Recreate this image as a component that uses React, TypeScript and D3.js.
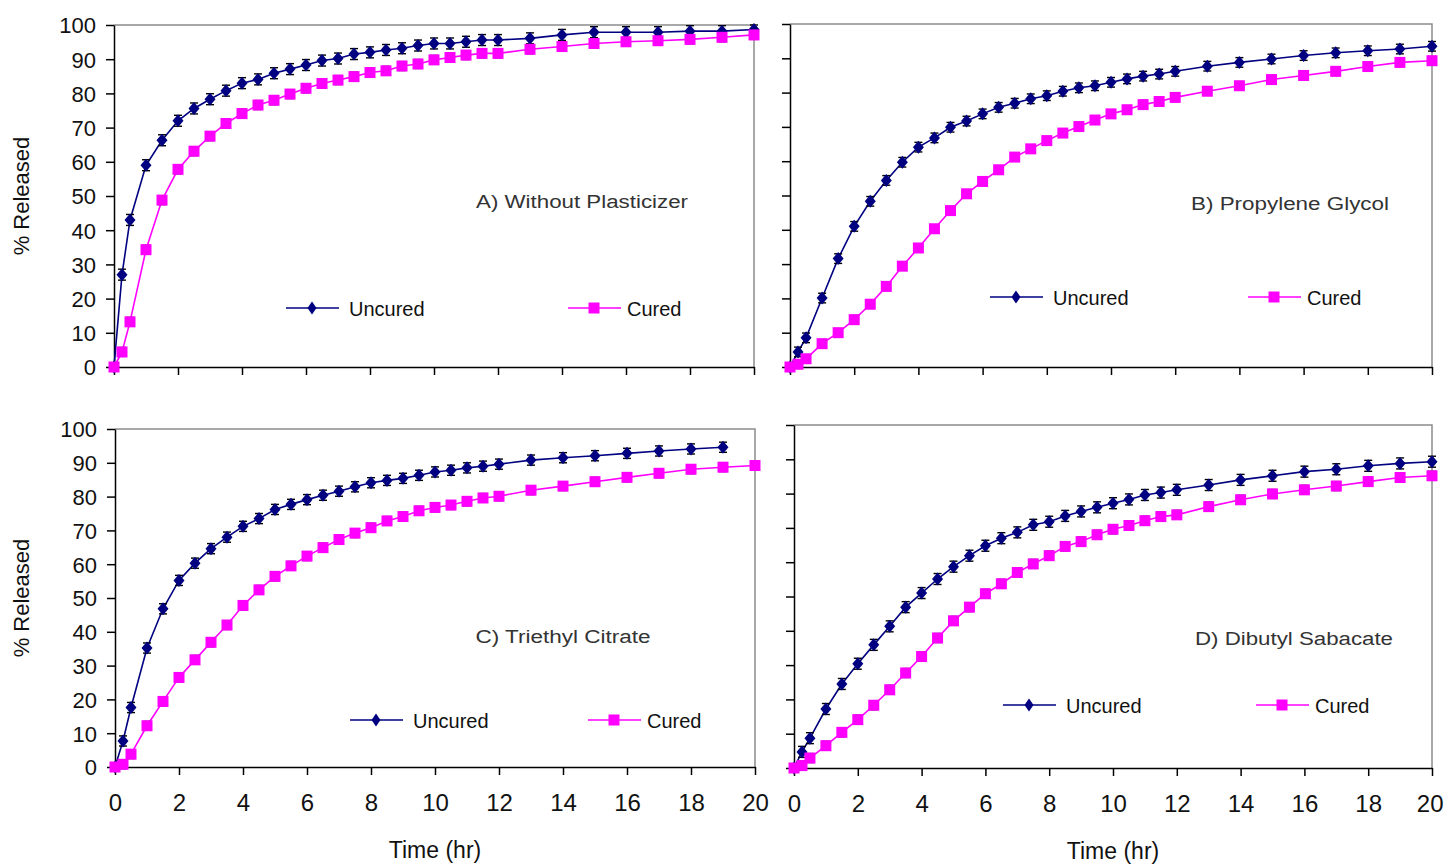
import React, { useEffect, useRef } from 'react';
import * as d3 from 'd3';

// sampling times (hr)
const times = [0, 0.25, 0.5, 1, 1.5, 2, 2.5, 3, 3.5, 4, 4.5, 5, 5.5, 6, 6.5, 7, 7.5, 8, 8.5, 9, 9.5, 10, 10.5, 11, 11.5, 12, 13, 14, 15, 16, 17, 18, 19, 20];
const xTicks = [0, 2, 4, 6, 8, 10, 12, 14, 16, 18, 20];
const yTicks = [0, 10, 20, 30, 40, 50, 60, 70, 80, 90, 100];

// % released
const uncuredA = [0, 27, 43, 59, 66.3, 72, 75.6, 78.3, 80.8, 83, 84.1, 85.9, 87.1, 88.3, 89.6, 90.2, 91.5, 92, 92.7, 93.2, 94, 94.6, 94.6, 95.1, 95.6, 95.6, 96.1, 97.1, 97.9, 97.9, 97.9, 98.2, 98.2, 98.7];
const curedA = [0, 4.4, 13.2, 34.3, 48.8, 57.8, 63.1, 67.5, 71.2, 74.1, 76.6, 78, 79.8, 81.5, 82.9, 83.9, 84.9, 86.1, 86.6, 88, 88.6, 89.8, 90.5, 91.2, 91.7, 91.7, 92.9, 93.7, 94.6, 95.1, 95.4, 95.8, 96.4, 97.1];
const uncuredB = [0, 4.4, 8.5, 20.1, 31.6, 41, 48.3, 54.4, 59.7, 64.1, 66.8, 69.9, 71.7, 73.8, 75.7, 76.9, 78.2, 79.1, 80.4, 81.4, 82, 83, 84, 84.8, 85.4, 86.2, 87.7, 88.8, 89.8, 90.8, 91.6, 92.2, 92.7, 93.5];
const curedB = [0, 0.8, 2.4, 6.8, 10, 13.8, 18.3, 23.5, 29.4, 34.7, 40.3, 45.6, 50.5, 54.1, 57.5, 61.2, 63.6, 66, 68.2, 70.1, 72, 73.8, 75, 76.5, 77.4, 78.6, 80.4, 82, 83.8, 85, 86.2, 87.6, 88.8, 89.3];
const uncuredC = [0, 7.7, 17.6, 35.2, 46.8, 55.2, 60.3, 64.6, 68, 71.2, 73.5, 76.2, 77.7, 79.1, 80.4, 81.6, 82.9, 84.1, 84.8, 85.4, 86.3, 87.3, 87.8, 88.5, 89, 89.6, 90.8, 91.5, 92.1, 92.8, 93.5, 94.1, 94.6];
const curedC = [0, 0.8, 3.8, 12.2, 19.4, 26.5, 31.7, 36.9, 42, 47.8, 52.4, 56.4, 59.5, 62.4, 64.9, 67.3, 69.2, 70.8, 72.8, 74.1, 75.8, 76.8, 77.5, 78.6, 79.6, 80.1, 81.9, 83.1, 84.4, 85.7, 86.9, 88.1, 88.7, 89.2];
const uncuredD = [0, 4.7, 8.7, 17.2, 24.5, 30.4, 35.9, 41.3, 46.9, 51, 55.1, 58.7, 61.9, 64.8, 67, 68.7, 70.9, 71.8, 73.5, 74.8, 76, 77.2, 78.3, 79.6, 80.3, 81.1, 82.5, 84, 85.2, 86.4, 87.1, 88.1, 88.8, 89.3];
const curedD = [0, 0.7, 2.9, 6.5, 10.4, 14.1, 18.3, 22.8, 27.7, 32.5, 37.9, 42.9, 46.9, 50.8, 53.7, 57, 59.5, 61.9, 64.6, 66, 68, 69.6, 70.7, 72.1, 73.3, 73.8, 76.2, 78.2, 79.9, 81.1, 82.2, 83.5, 84.7, 85.2];

// typical standard deviation per panel
const sdUncured = [1.6, 1.4, 1.5, 1.6];
const sdCured = [1.3, 1.2, 1.3, 1.3];

const panelTitles = ['A) Without Plasticizer', 'B) Propylene Glycol', 'C) Triethyl Citrate', 'D) Dibutyl Sabacate'];
const seriesNames = ['Uncured', 'Cured'];

const NAVY = '#000080';
const MAGENTA = '#ff00ff';
const FONT = '"Liberation Sans", Arial, sans-serif';

// page layout for each panel
const panels = [
  { box: [114, 25, 754, 367], title: [582, 208, 212], leg: [286, 308, 568], yLabels: true, xLabels: false },
  { box: [790, 24, 1432, 367], title: [1290, 210, 198], leg: [990, 297, 1248], yLabels: false, xLabels: false },
  { box: [115, 429, 755, 767], title: [563, 643, 175], leg: [350, 720, 588], yLabels: true, xLabels: true },
  { box: [794, 425, 1432, 768], title: [1294, 645, 198], leg: [1003, 705, 1256], yLabels: false, xLabels: true },
];
const uncuredSets = [uncuredA, uncuredB, uncuredC, uncuredD];
const curedSets = [curedA, curedB, curedC, curedD];

export default function App() {
  const svgRef = useRef<SVGSVGElement>(null);

  useEffect(() => {
    if (!svgRef.current) return;
    const svg = d3.select(svgRef.current);
    svg.selectAll('*').remove();

    svg.append('rect').attr('width', 1444).attr('height', 865).attr('fill', '#fff');

    panels.forEach((p, i) => {
      const [x0, y0, x1, y1] = p.box;
      const x = d3.scaleLinear().domain([0, 20]).range([x0, x1]);
      const y = d3.scaleLinear().domain([0, 100]).range([y1, y0]);
      const g = svg.append('g');

      // top/right frame in grey
      g.append('path')
        .attr('d', `M${x0},${y0}H${x1}V${y1}`)
        .attr('fill', 'none').attr('stroke', '#8c8c8c').attr('stroke-width', 1.5);

      // y axis
      const yAxis = g.append('g').attr('transform', `translate(${x0},0)`)
        .call(d3.axisLeft(y).tickValues(yTicks).tickSize(8).tickSizeOuter(0).tickFormat(p.yLabels ? d3.format('d') : () => ''));
      yAxis.select('.domain').attr('stroke', '#000').attr('stroke-width', 1.5);
      yAxis.selectAll('.tick line').attr('stroke', '#000').attr('stroke-width', 1.5);
      yAxis.selectAll('.tick text')
        .attr('x', -18).attr('dy', '0.36em')
        .style('font-family', FONT).style('font-size', '22px').attr('fill', '#111');

      // x axis
      const xAxis = g.append('g').attr('transform', `translate(0,${y1})`)
        .call(d3.axisBottom(x).tickValues(xTicks).tickSize(8).tickSizeOuter(0).tickFormat(p.xLabels ? d3.format('d') : () => ''));
      xAxis.select('.domain').attr('stroke', '#000').attr('stroke-width', 1.5);
      xAxis.selectAll('.tick line').attr('stroke', '#000').attr('stroke-width', 1.5);
      xAxis.selectAll('.tick text')
        .attr('y', 27).attr('dy', '0.71em')
        .style('font-family', FONT).style('font-size', '24px').attr('fill', '#111');
      // last label sits at the page edge: keep it inside
      if (x1 + 14 > 1444) {
        xAxis.selectAll<SVGTextElement, number>('.tick text')
          .filter(d => d === 20)
          .attr('text-anchor', 'end').attr('x', 1443 - x1);
      }

      if (p.yLabels) {
        g.append('text')
          .attr('transform', `translate(29,${(y0 + y1) / 2}) rotate(-90)`)
          .attr('text-anchor', 'middle')
          .style('font-family', FONT).style('font-size', '22px').attr('fill', '#111')
          .text('% Released');
      }
      if (p.xLabels) {
        g.append('text')
          .attr('x', (x0 + x1) / 2).attr('y', y1 + 91)
          .attr('text-anchor', 'middle')
          .style('font-family', FONT).style('font-size', '23px').attr('fill', '#111')
          .text('Time (hr)');
      }

      // panel title
      const [tx, ty, tw] = p.title;
      g.append('text')
        .attr('x', tx - tw / 2).attr('y', ty)
        .attr('textLength', tw).attr('lengthAdjust', 'spacingAndGlyphs')
        .style('font-family', FONT).style('font-size', '18px').attr('fill', '#333')
        .text(panelTitles[i]);

      const diamond = (cx: number, cy: number, w: number, h: number) =>
        `M${cx},${cy - h}L${cx + w},${cy}L${cx},${cy + h}L${cx - w},${cy}Z`;

      const drawSeries = (vals: number[], color: string, sd: number, shape: 'diamond' | 'square') => {
        const pts = vals.map((v, k) => [times[k], v] as [number, number]);
        const line = d3.line<[number, number]>().x(d => x(d[0])).y(d => y(d[1]));
        g.append('path').attr('d', line(pts)).attr('fill', 'none')
          .attr('stroke', color).attr('stroke-width', 1.6);
        const eb = g.append('g').attr('stroke', '#000').attr('stroke-width', 1.4);
        pts.forEach(d => {
          if (d[1] === 0) return;
          const cx = x(d[0]);
          const ya = y(Math.min(100, d[1] + sd));
          const yb = y(d[1] - sd);
          eb.append('line').attr('x1', cx).attr('x2', cx).attr('y1', ya).attr('y2', yb);
          eb.append('line').attr('x1', cx - 4).attr('x2', cx + 4).attr('y1', ya).attr('y2', ya);
          eb.append('line').attr('x1', cx - 4).attr('x2', cx + 4).attr('y1', yb).attr('y2', yb);
        });
        const mk = g.append('g').attr('fill', color);
        pts.forEach(d => {
          if (shape === 'diamond') {
            mk.append('path').attr('d', diamond(x(d[0]), y(d[1]), 5.5, 6.5));
          } else {
            mk.append('rect').attr('x', x(d[0]) - 5.5).attr('y', y(d[1]) - 5.5)
              .attr('width', 11).attr('height', 11);
          }
        });
      };

      drawSeries(uncuredSets[i], NAVY, sdUncured[i], 'diamond');
      drawSeries(curedSets[i], MAGENTA, sdCured[i], 'square');

      // legend
      const [lx1, ly, lx2] = p.leg;
      const lg = g.append('g');
      lg.append('line').attr('x1', lx1).attr('x2', lx1 + 53).attr('y1', ly).attr('y2', ly)
        .attr('stroke', NAVY).attr('stroke-width', 1.6);
      lg.append('path').attr('d', diamond(lx1 + 26, ly, 4.5, 6.5)).attr('fill', NAVY);
      lg.append('text').attr('x', lx1 + 63).attr('y', ly + 8)
        .style('font-family', FONT).style('font-size', '20px').attr('fill', '#111')
        .text(seriesNames[0]);
      lg.append('line').attr('x1', lx2).attr('x2', lx2 + 53).attr('y1', ly).attr('y2', ly)
        .attr('stroke', MAGENTA).attr('stroke-width', 1.6);
      lg.append('rect').attr('x', lx2 + 26 - 5.5).attr('y', ly - 5.5).attr('width', 11).attr('height', 11)
        .attr('fill', MAGENTA);
      lg.append('text').attr('x', lx2 + 59).attr('y', ly + 8)
        .style('font-family', FONT).style('font-size', '20px').attr('fill', '#111')
        .text(seriesNames[1]);
    });
  }, []);

  return (
    <svg ref={svgRef} width={1444} height={865}
      style={{ position: 'absolute', left: 0, top: 0, display: 'block' }} />
  );
}
